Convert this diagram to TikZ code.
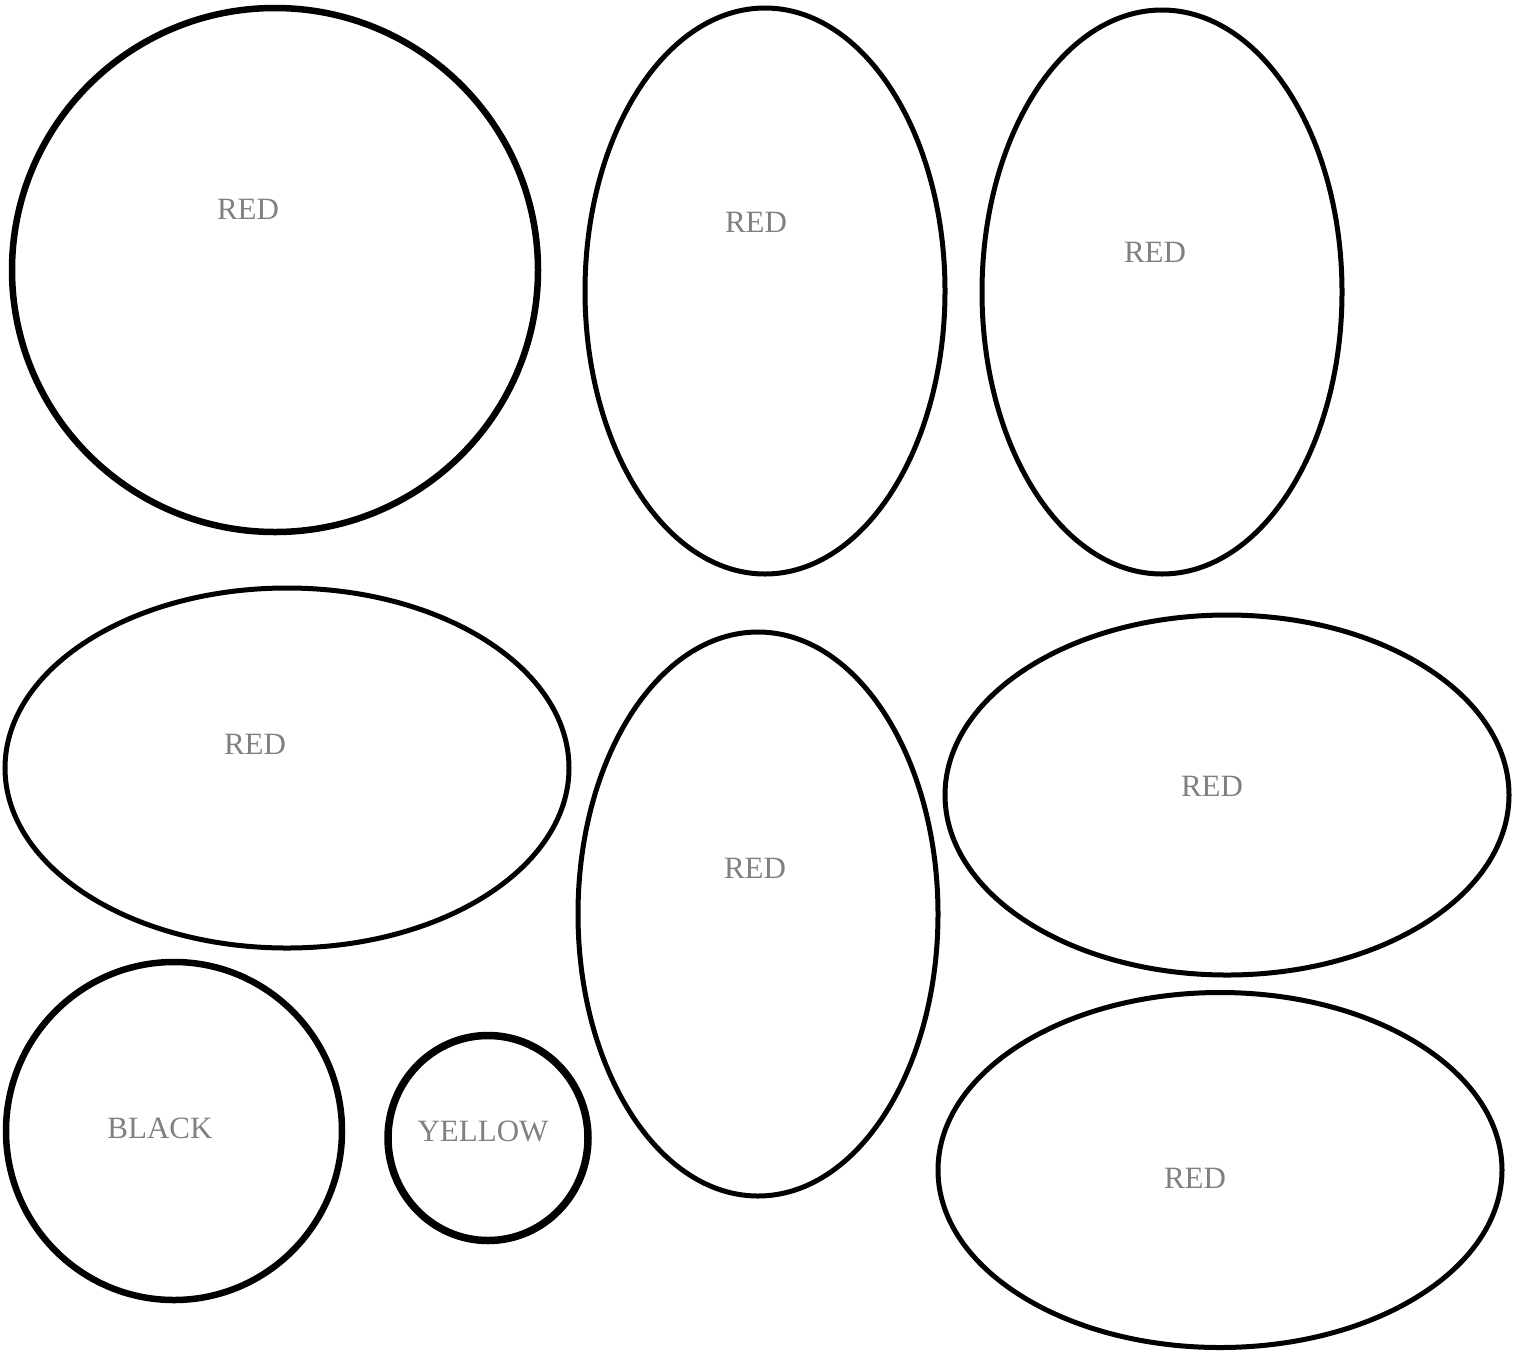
\documentclass[tikz,border=0pt]{standalone}
\usepackage{fontspec}
\setmainfont{Liberation Serif}
\usetikzlibrary{shapes.geometric}
\definecolor{cLabel}{HTML}{808080}
\tikzset{
  blob/.style={ellipse,draw=black,inner sep=0pt,line width=5pt},
  fatblob/.style={blob,line width=6.5pt},
  tag/.style={text=cLabel,font=\fontsize{31}{34}\selectfont,inner sep=0pt},
}
\begin{document}
\begin{tikzpicture}[x=1pt,y=-1pt]
  \useasboundingbox (0,0) rectangle (1523,1350);
  % top row
  \node[fatblob,minimum width=526pt,minimum height=524pt] (c1) at (275,270) {};
  \node[blob,minimum width=360pt,minimum height=566pt] (e2) at (765,291) {};
  \node[blob,minimum width=360pt,minimum height=564pt] (e3) at (1162,292) {};
  \node[tag] (t1) at (248,209) {RED};
  \node[tag] (t2) at (756,222) {RED};
  \node[tag] (t3) at (1155,252) {RED};
  % middle row
  \node[blob,minimum width=564pt,minimum height=360pt] (e4) at (287,768) {};
  \node[blob,minimum width=360pt,minimum height=564pt] (e5) at (758,914) {};
  \node[blob,minimum width=564pt,minimum height=360pt] (e6) at (1227,795) {};
  \node[tag] (t4) at (255,744) {RED};
  \node[tag] (t5) at (755,868) {RED};
  \node[tag] (t6) at (1212,786) {RED};
  % bottom row
  \node[fatblob,minimum width=336pt,minimum height=338pt] (c8) at (174,1131) {};
  \node[fatblob,line width=7.5pt,minimum width=200pt,minimum height=205pt] (c9) at (488,1138) {};
  \node[blob,minimum width=564pt,minimum height=355pt] (e7) at (1220,1170) {};
  \node[tag] (t8) at (160,1128) {BLACK};
  \node[tag] (t9) at (483,1131) {YELLOW};
  \node[tag] (t7) at (1195,1178) {RED};
\end{tikzpicture}
\end{document}
